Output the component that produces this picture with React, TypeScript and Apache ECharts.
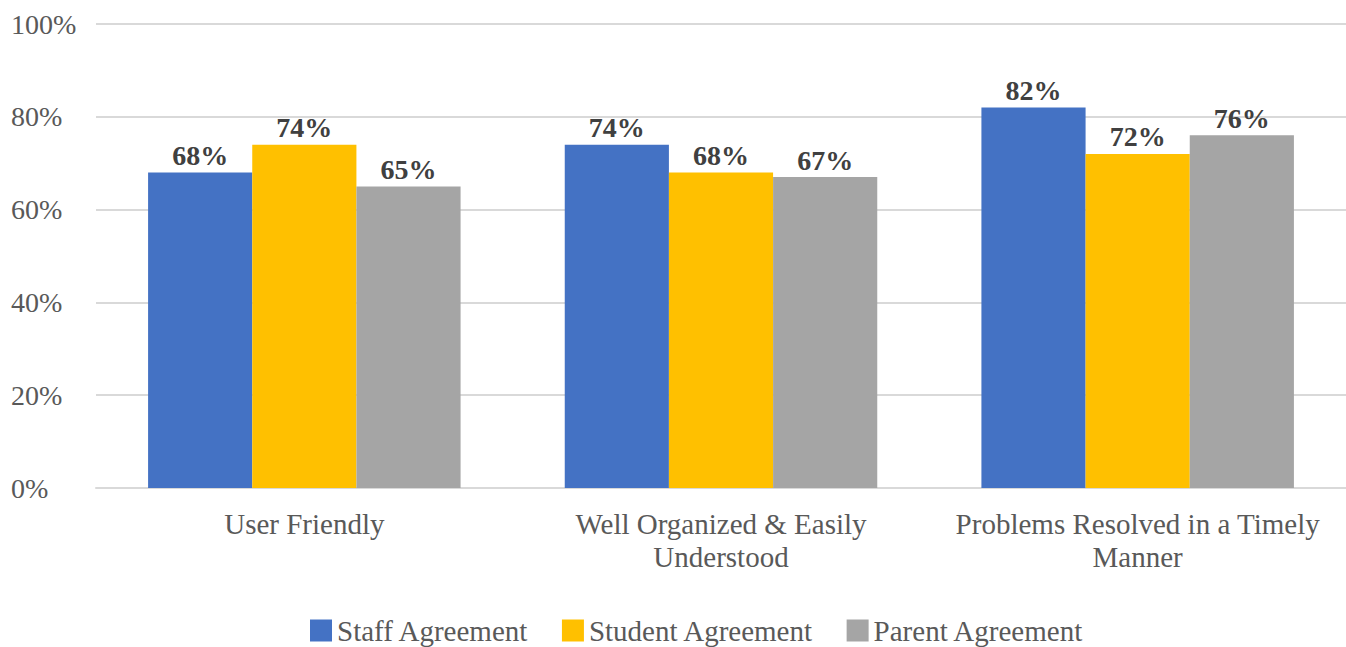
import React, { useEffect, useRef } from "react";
import * as echarts from "echarts";

const categories = [
  "User Friendly",
  "Well Organized & Easily\nUnderstood",
  "Problems Resolved in a Timely\nManner",
];
const staffAgreement = [68, 74, 82];
const studentAgreement = [74, 68, 72];
const parentAgreement = [65, 67, 76];
const seriesNames = ["Staff Agreement", "Student Agreement", "Parent Agreement"];
const colors = ["#4472C4", "#FFC000", "#A5A5A5"];

export default function App() {
  const ref = useRef<HTMLDivElement>(null);
  useEffect(() => {
    if (!ref.current) return;
    const chart = echarts.init(ref.current, undefined, { renderer: "svg" });
    const font = "Liberation Serif";
    const mk = (name: string, data: number[], color: string) => ({
      name,
      type: "bar",
      data,
      barGap: "0%",
      barCategoryGap: "25%",
      itemStyle: { color },
      label: {
        show: true,
        position: "top",
        distance: 3,
        formatter: (p: any) => p.value + "%",
        fontFamily: font,
        fontSize: 28,
        fontWeight: "bold",
        color: "#404040",
      },
    });
    chart.setOption({
      animation: false,
      textStyle: { fontFamily: font },
      legend: {
        left: 305,
        top: 611,
        itemWidth: 22,
        itemHeight: 22,
        itemGap: 33,
        icon: "rect",
        textStyle: { fontFamily: font, fontSize: 29, color: "#595959" },
        data: seriesNames,
      },
      grid: { left: 96, top: 24, width: 1262, height: 464, containLabel: false },
      xAxis: {
        type: "category",
        data: categories,
        axisTick: { show: false },
        axisLine: { lineStyle: { color: "#D9D9D9", width: 2 } },
        axisLabel: {
          fontFamily: font,
          fontSize: 29,
          color: "#595959",
          lineHeight: 33,
          margin: 19,
          interval: 0,
        },
      },
      yAxis: {
        type: "value",
        min: 0,
        max: 100,
        interval: 20,
        axisLine: { show: false },
        axisTick: { show: false },
        splitLine: { lineStyle: { color: "#D9D9D9", width: 2 } },
        axisLabel: {
          formatter: "{value}%",
          fontFamily: font,
          fontSize: 28,
          color: "#595959",
          align: "left",
          margin: 85,
        },
      },
      series: [
        mk(seriesNames[0], staffAgreement, colors[0]),
        mk(seriesNames[1], studentAgreement, colors[1]),
        mk(seriesNames[2], parentAgreement, colors[2]),
      ],
    });
    return () => chart.dispose();
  }, []);
  return (
    <div
      ref={ref}
      style={{ position: "absolute", left: 0, top: 0, width: 1346, height: 647 }}
    />
  );
}
